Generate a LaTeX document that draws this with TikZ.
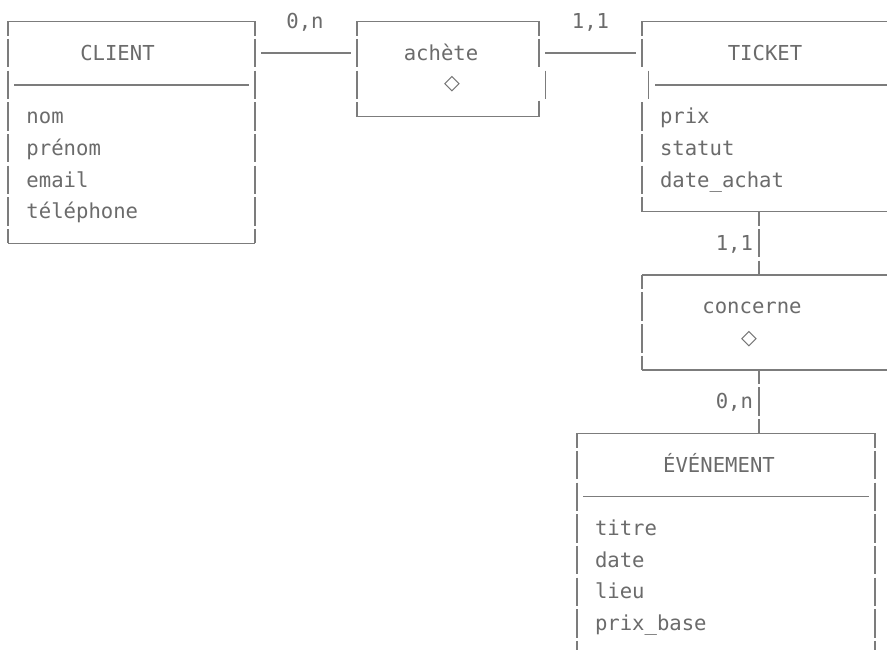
\documentclass[tikz,border=0pt]{standalone}
\usepackage{fontspec}
\newfontfamily\monof{DejaVu Sans Mono}
\newfontfamily\symf{DejaVu Sans}
\definecolor{txtc}{HTML}{6B6B6B}
\definecolor{linc}{HTML}{7C7C7C}
\begin{document}
\begin{tikzpicture}[x=1pt,y=-1pt,
  lbl/.style={font=\monof\fontsize{20.6}{24}\selectfont, text=txtc, inner sep=0pt, outer sep=0pt},
  sym/.style={font=\symf\fontsize{20.6}{24}\selectfont, text=txtc, inner sep=0pt, outer sep=0pt},
  hline/.style={draw=linc, line width=1.4pt},
  vbar/.style={draw=linc, line width=1.4pt, dash pattern=on 28.4pt off 3.28pt, dash phase=14.2pt},
  vbarb/.style={draw=linc, line width=1.4pt, dash pattern=on 28.4pt off 3.28pt, dash phase=30.04pt},
  area/.style={inner sep=0pt, outer sep=0pt, anchor=north west}]
\useasboundingbox[fill=white] (0,0) rectangle (887,650);

% ---------- box areas ----------
\node[area, minimum width=247pt, minimum height=221.76pt] (client) at (8,21.5) {};
\node[area, minimum width=182pt, minimum height=95.04pt] (achete) at (357,21.5) {};
\node[area, minimum width=246pt, minimum height=190.08pt] (ticket) at (642,21.5) {};
\node[area, minimum width=246pt, minimum height=95.04pt] (concerne) at (642,274.94) {};
\node[area, minimum width=298pt, minimum height=221.76pt] (evenement) at (577,433.34) {};

% ---------- CLIENT frame ----------
\draw[hline] (client.north west) -- (client.north east);
\draw[hline] (client.south west) -- (client.south east);
\draw[vbar] (client.north west) -- (client.south west);
\draw[vbar] (client.north east) -- (client.south east);
\draw[hline] ([xshift=6.2pt,yshift=-63.36pt]client.north west) -- ([xshift=-6.2pt,yshift=-63.36pt]client.north east);

% ---------- achète frame ----------
\draw[hline] (achete.north west) -- (achete.north east);
\draw[hline] (achete.south west) -- (achete.south east);
\draw[vbar] (achete.north west) -- (achete.south west);
\draw[vbar] (achete.north east) -- ([yshift=-47.52pt]achete.north east);
\draw[hline] ([xshift=6.5pt,yshift=-49.16pt]achete.north east) -- ([xshift=6.5pt,yshift=-77.56pt]achete.north east);
\draw[hline] ([yshift=-79.2pt]achete.north east) -- (achete.south east);

% ---------- TICKET frame ----------
\draw[hline] (ticket.north west) -- (ticket.north east);
\draw[hline] (ticket.south west) -- (ticket.south east);
\draw[vbar] (ticket.north west) -- ([yshift=-47.52pt]ticket.north west);
\draw[hline] ([xshift=6.5pt,yshift=-49.16pt]ticket.north west) -- ([xshift=6.5pt,yshift=-77.56pt]ticket.north west);
\draw[vbarb] ([yshift=-79.2pt]ticket.north west) -- (ticket.south west);
\draw[vbar] (ticket.north east) -- (ticket.south east);
\draw[hline] ([xshift=13pt,yshift=-63.36pt]ticket.north west) -- ([yshift=-63.36pt]ticket.north east);

% ---------- concerne frame ----------
\draw[hline] (concerne.north west) -- (concerne.north east);
\draw[hline] (concerne.south west) -- (concerne.south east);
\draw[vbar] (concerne.north west) -- (concerne.south west);
\draw[vbar] (concerne.north east) -- ([yshift=-47.52pt]concerne.north east);
\draw[vbarb] ([yshift=-79.2pt]concerne.north east) -- (concerne.south east);

% ---------- ÉVÉNEMENT frame ----------
\draw[hline] (evenement.north west) -- (evenement.north east);
\draw[vbar] (evenement.north west) -- (evenement.south west);
\draw[vbar] (evenement.north east) -- (evenement.south east);
\draw[hline] ([xshift=6.2pt,yshift=-63.36pt]evenement.north west) -- ([xshift=-6.2pt,yshift=-63.36pt]evenement.north east);

% ---------- connectors ----------
\draw[hline] ([xshift=6.2pt,yshift=-31.68pt]client.north east) -- ([xshift=-6.2pt,yshift=-31.68pt]achete.north west);
\draw[hline] ([xshift=6.2pt,yshift=-31.68pt]achete.north east) -- ([xshift=-6.2pt,yshift=-31.68pt]ticket.north west);
\draw[vbar] ([xshift=117pt]ticket.south west) -- ([xshift=117pt]concerne.north west);
\draw[vbar] ([xshift=117pt]concerne.south west) -- ([xshift=117pt]concerne.south west |- evenement.north);

% ---------- cardinalities ----------
\node[lbl, anchor=base] (card1) at (305,28.7) {0,n};
\node[lbl, anchor=base] (card2) at (590.5,28.7) {1,1};
\node[lbl, anchor=base east] (card3) at (753,250.46) {1,1};
\node[lbl, anchor=base east] (card4) at (753,408.86) {0,n};

% ---------- titles ----------
\node[lbl, anchor=base] (tclient) at (117.5,60.38) {CLIENT};
\node[lbl, anchor=base] (tachete) at (441,60.38) {achète};
\node[sym] (dachete) at (452,84.5) {◇};
\node[lbl, anchor=base] (tticket) at (765,60.38) {TICKET};
\node[lbl, anchor=base] (tconcerne) at (752,313.82) {concerne};
\node[sym] (dconcerne) at (749,339) {◇};
\node[lbl, anchor=base] (tevenement) at (719,472.22) {ÉVÉNEMENT};

% ---------- attributes ----------
\node[lbl, anchor=base west] (c1) at (26.5,123.74) {nom};
\node[lbl, anchor=base west] (c2) at (26.5,155.42) {prénom};
\node[lbl, anchor=base west] (c3) at (26.5,187.1) {email};
\node[lbl, anchor=base west] (c4) at (26.5,218.78) {téléphone};

\node[lbl, anchor=base west] (t1) at (660,123.74) {prix};
\node[lbl, anchor=base west] (t2) at (660,155.42) {statut};
\node[lbl, anchor=base west] (t3) at (660,187.1) {date\_achat};

\node[lbl, anchor=base west] (e1) at (595,535.58) {titre};
\node[lbl, anchor=base west] (e2) at (595,567.26) {date};
\node[lbl, anchor=base west] (e3) at (595,598.94) {lieu};
\node[lbl, anchor=base west] (e4) at (595,630.62) {prix\_base};
\end{tikzpicture}
\end{document}
